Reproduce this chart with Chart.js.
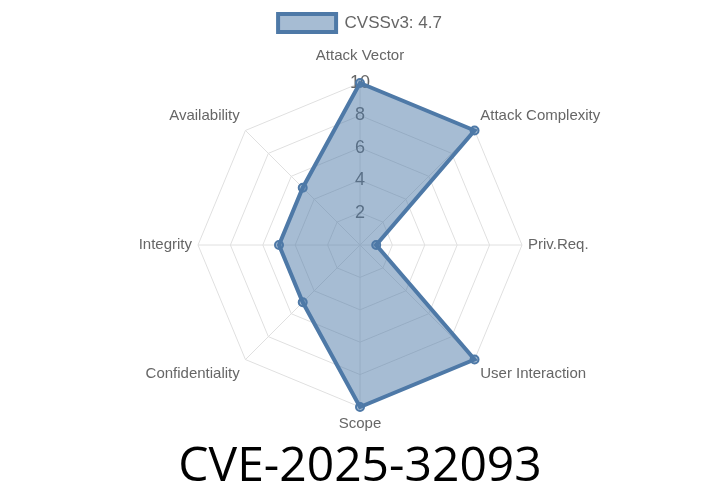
<!DOCTYPE html>
<html>
<head>
<meta charset="utf-8">
<script src="https://cdn.jsdelivr.net/npm/chart.js@4"></script>
<style>
  html, body { margin: 0; padding: 0; background: #fff; }
  #wrap { width: 720px; height: 504px; }
</style>
</head>
<body>
<div id="wrap"><canvas id="cvssChart"></canvas></div>
<script>
const metrics = ["Attack Vector", "Attack Complexity", "Priv.Req.", "User Interaction", "Scope", "Confidentiality", "Integrity", "Availability"];
const scores = [10, 10, 1, 10, 10, 5, 5, 5];
const seriesLabel = "CVSSv3: 4.7";
const chartTitle = "CVE-2025-32093";

new Chart(document.getElementById("cvssChart"), {
    type: "radar",
    data: {
        labels: metrics,
        datasets: [{
            label: seriesLabel,
            data: scores,
            backgroundColor: "rgba(78, 121, 167, 0.5)",
            borderColor: "#4e79a7",
            borderWidth: 4,
            pointBackgroundColor: "rgba(78, 121, 167, 0.5)",
            pointBorderColor: "#4e79a7",
            pointBorderWidth: 2,
            pointRadius: 4
        }]
    },
    options: {
        responsive: true,
        maintainAspectRatio: false,
        animation: false,
        layout: { padding: { top: 4, bottom: 0 } },
        scales: {
            r: {
                min: 0,
                max: 10,
                ticks: {
                    stepSize: 2,
                    showLabelBackdrop: false,
                    color: "#666",
                    font: { family: "Liberation Sans", size: 18 }
                },
                grid: { color: "#e0e0e0" },
                angleLines: { color: "#e0e0e0" },
                pointLabels: {
                    color: "#666",
                    // top label sits further out, side labels hug the web
                    padding: ctx => {
                        if (ctx.index === 0) return 7;
                        if (ctx.index === 2 || ctx.index === 6) return -5;
                        return -3;
                    },
                    font: { family: "Liberation Sans", size: 15 }
                }
            }
        },
        plugins: {
            legend: {
                position: "top",
                labels: {
                    color: "#666",
                    font: { family: "Liberation Sans", size: 17 },
                    boxWidth: 58,
                    boxHeight: 18,
                    padding: 10
                }
            },
            title: {
                display: true,
                text: chartTitle,
                position: "bottom",
                color: "#000",
                font: { family: "Open Sans", size: 48, weight: "normal" },
                padding: { top: 0, bottom: 8 }
            }
        }
    }
});
</script>
</body>
</html>
